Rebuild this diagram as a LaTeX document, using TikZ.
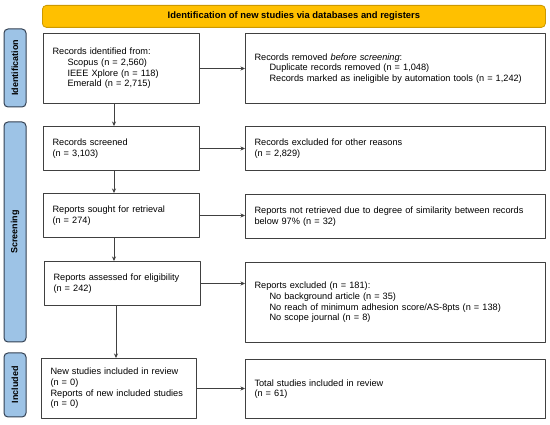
\documentclass[tikz,border=0pt]{standalone}
\usepackage{fontspec}
\setmainfont{Liberation Sans}
\usepackage{tikz}
\usetikzlibrary{calc}
\usetikzlibrary{arrows.meta}
\definecolor{ffcqqq}{rgb}{1.,0.7529411764705882,0.}
\definecolor{ccmdqq}{rgb}{0.8,0.6,0.}
\definecolor{ndcfee}{rgb}{0.615686274509804,0.7647058823529411,0.9019607843137255}
\definecolor{cdddee}{rgb}{0.2,0.25,0.32}
\definecolor{dkgray}{rgb}{0.25,0.25,0.25}
\tikzstyle{every node}=[font=\fontsize{9.2}{10.6}\selectfont]
\tikzstyle{box}=[draw=dkgray,line width=1pt,anchor=north west,align=left,inner xsep=9pt,inner ysep=2pt]
\tikzstyle{side}=[draw=cdddee,fill=ndcfee,line width=1pt,rounded corners=4pt,rotate=90,minimum height=22pt,inner sep=0pt,font=\fontsize{9}{10}\selectfont\bfseries]
\begin{document}
\begin{tikzpicture}[line cap=round,line join=round,>={Stealth[length=4.5pt,width=4pt]},x=1pt,y=-1pt]
            \useasboundingbox (0,0) rectangle (550,425);
            % banner and phases
            \node[draw=ccmdqq,fill=ffcqqq,line width=0.8pt,rounded corners=4pt,anchor=north west,minimum width=503pt,minimum height=22pt,inner sep=0pt,font=\fontsize{9.4}{10}\selectfont\bfseries] (banner) at (42,5) {Identification of new studies via databases and registers};
            \node[side,minimum width=78pt] (ident) at (15,68) {Identification};
            \node[side,minimum width=220pt] (screen) at (15,232) {Screening};
            \node[side,minimum width=64pt] (incl) at (15,385) {Included};
            % left column
            \node[box,text width=138pt,minimum height=70pt] (recid) at (43,33) {Records identified from:\\\hspace*{15pt}Scopus (n = 2,560)\\\hspace*{15pt}IEEE Xplore (n = 118)\\\hspace*{15pt}Emerald (n = 2,715)};
            \node[box,text width=138pt,minimum height=44pt] (recscr) at (43,126) {Records screened\\(n = 3,103)};
            \node[box,text width=138pt,minimum height=44pt] (repsou) at (43,193) {Reports sought for retrieval\\(n = 274)};
            \node[box,text width=138pt,minimum height=44pt] (repass) at (44,261) {Reports assessed for eligibility\\(n = 242)};
            \node[box,text width=137pt,minimum height=60pt] (newst) at (41,358) {New studies included in review\\(n = 0)\\Reports of new included studies\\(n = 0)};
            % right column
            \node[box,text width=282pt,minimum height=70pt] (recrem) at (245,33) {Records removed \textit{before screening}:\\\hspace*{15pt}Duplicate records removed (n = 1,048)\\\hspace*{15pt}Records marked as ineligible by automation tools (n = 1,242)};
            \node[box,text width=282pt,minimum height=44pt] (recexc) at (245,126) {Records excluded for other reasons\\(n = 2,829)};
            \node[box,text width=282pt,minimum height=44pt] (repnot) at (245,194) {Reports not retrieved due to degree of similarity between records\\below 97\% (n = 32)};
            \node[box,text width=282pt,minimum height=80pt] (repexc) at (245,262) {Reports excluded (n = 181):\\\hspace*{15pt}No background article (n = 35)\\\hspace*{15pt}No reach of minimum adhesion score/AS-8pts (n = 138)\\\hspace*{15pt}No scope journal (n = 8)};
            \node[box,text width=282pt,minimum height=59pt] (total) at (245,359) {Total studies included in review\\(n = 61)};
            % connectors
            \coordinate (spine) at (114,0);
            \coordinate (spinetwo) at (116,0);
            \draw [->,line width=0.6pt,color=dkgray] (recid.south -| spine) -- (recscr.north -| spine);
            \draw [->,line width=0.6pt,color=dkgray] (recscr.south -| spine) -- (repsou.north -| spine);
            \draw [->,line width=0.6pt,color=dkgray] (repsou.south -| spine) -- (repass.north -| spine);
            \draw [->,line width=0.6pt,color=dkgray] (repass.south -| spinetwo) -- (newst.north -| spinetwo);
            \draw [->,line width=0.6pt,color=dkgray] (recid.east) -- (recid.east -| recrem.west);
            \draw [->,line width=0.6pt,color=dkgray] (recscr.east) -- (recscr.east -| recexc.west);
            \draw [->,line width=0.6pt,color=dkgray] (repsou.east) -- (repsou.east -| repnot.west);
            \draw [->,line width=0.6pt,color=dkgray] (repass.east) -- (repass.east -| repexc.west);
            \draw [->,line width=0.6pt,color=dkgray] (newst.east) -- (newst.east -| total.west);
        \end{tikzpicture}
\end{document}
